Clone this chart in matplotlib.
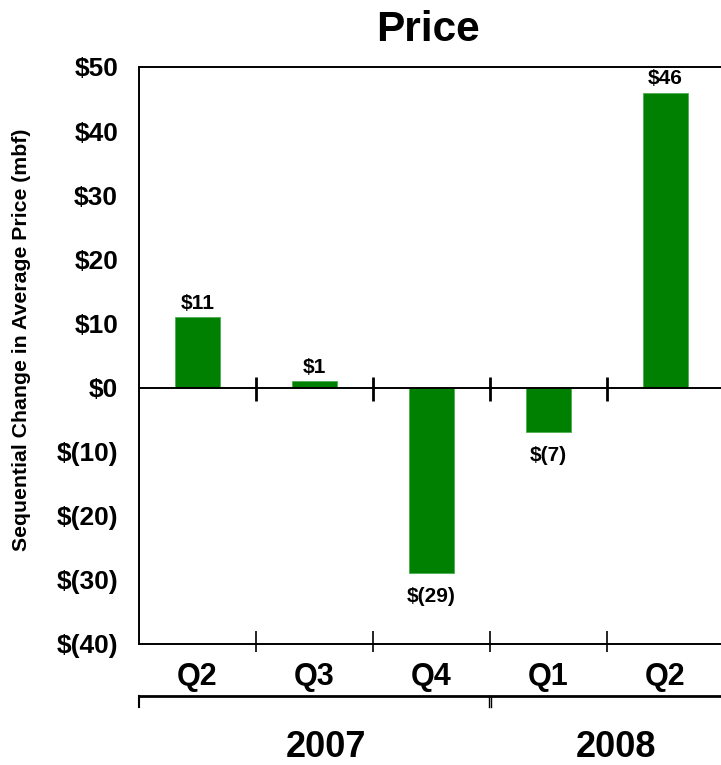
import matplotlib
matplotlib.use("Agg")
import matplotlib.pyplot as plt
import matplotlib.transforms as mtransforms

plt.rcParams['font.family'] = ['Liberation Sans', 'DejaVu Sans']
plt.rcParams['font.weight'] = 'bold'

quarters = ['Q2', 'Q3', 'Q4', 'Q1', 'Q2']
years = ['2007', '2008']
price_change = [11, 1, -29, -7, 46]
value_labels = ['$11', '$1', '$(29)', '$(7)', '$46']
y_ticks = [50, 40, 30, 20, 10, 0, -10, -20, -30, -40]

W, H = 721, 765
fig = plt.figure(figsize=(W / 100, H / 100), dpi=100)
# axes box in pixel terms: left 139, top 67, bottom 644, runs off the right edge
ax = fig.add_axes([139 / W, (H - 644) / H, (724 - 139) / W, (644 - 67) / H])

green = '#008000'
x = list(range(len(quarters)))
ax.bar(x, price_change, width=0.39, color=green, edgecolor='#4caf50', linewidth=0.6, zorder=2)

ax.set_xlim(-0.5, len(quarters) - 0.5)
ax.set_ylim(-40, 50)

for side in ['left', 'top', 'bottom']:
    ax.spines[side].set_linewidth(1.4)
ax.spines['right'].set_visible(False)

def money(v):
    return '$%d' % v if v >= 0 else '$(%d)' % abs(v)

ax.set_yticks(y_ticks)
ax.set_yticklabels([money(v) for v in y_ticks], fontsize=19, fontweight='bold')
ax.tick_params(axis='y', length=0, pad=15)
ax.set_xticks([])

# zero line with crossing ticks between quarters
ax.axhline(0, color='black', lw=1.4, zorder=3)
px = 577 / 90.0  # pixels per data unit on y
bounds = [i + 0.5 for i in range(len(quarters) - 1)]
ax.vlines(bounds, -13 / px, 11 / px, color='black', lw=2, zorder=3)
ax.vlines(bounds, -40 - 8 / px, -40 + 13 / px, color='black', lw=1.2, clip_on=False)

# value labels
for xi, v, lab in zip(x, price_change, value_labels):
    if v >= 0:
        ax.annotate(lab, (xi, v), xytext=(0, 3), textcoords='offset points',
                    ha='center', va='bottom', fontsize=15, fontweight='bold')
    else:
        ax.annotate(lab, (xi, v), xytext=(0, -10), textcoords='offset points',
                    ha='center', va='top', fontsize=15, fontweight='bold')

# quarter labels and year grouping below the axis
trans = mtransforms.blended_transform_factory(ax.transData, ax.transAxes)
for xi, q in zip(x, quarters):
    ax.text(xi, -(685 - 644) / 577, q, transform=trans, ha='center', va='baseline',
            fontsize=22, fontweight='bold')

y_grp = -(696 - 644) / 577
y_grp_tick = -(707 - 644) / 577
ax.plot([-0.5, len(quarters) - 0.5 + 0.1], [y_grp, y_grp], transform=trans,
        color='black', lw=2, clip_on=False)
ax.plot([-0.5, -0.5], [y_grp, y_grp_tick], transform=trans, color='black', lw=1.5, clip_on=False)
for dx in (-0.012, 0.012):
    ax.plot([2.5 + dx, 2.5 + dx], [y_grp, y_grp_tick], transform=trans,
            color='black', lw=1, clip_on=False)

year_x = [1.1, 3.58]
for yx, yr in zip(year_x, years):
    ax.text(yx, -(757 - 644) / 577, yr, transform=trans, ha='center', va='baseline',
            fontsize=26, fontweight='bold')

fig.text(428 / W, 1 - 41 / H, 'Price', ha='center', va='baseline', fontsize=30.5, fontweight='bold')
fig.text(22 / W, 1 - 340 / H, 'Sequential Change in Average Price (mbf)', rotation=90,
         ha='center', va='center', fontsize=15.3, fontweight='bold')

fig.savefig('out.png', dpi=100)
